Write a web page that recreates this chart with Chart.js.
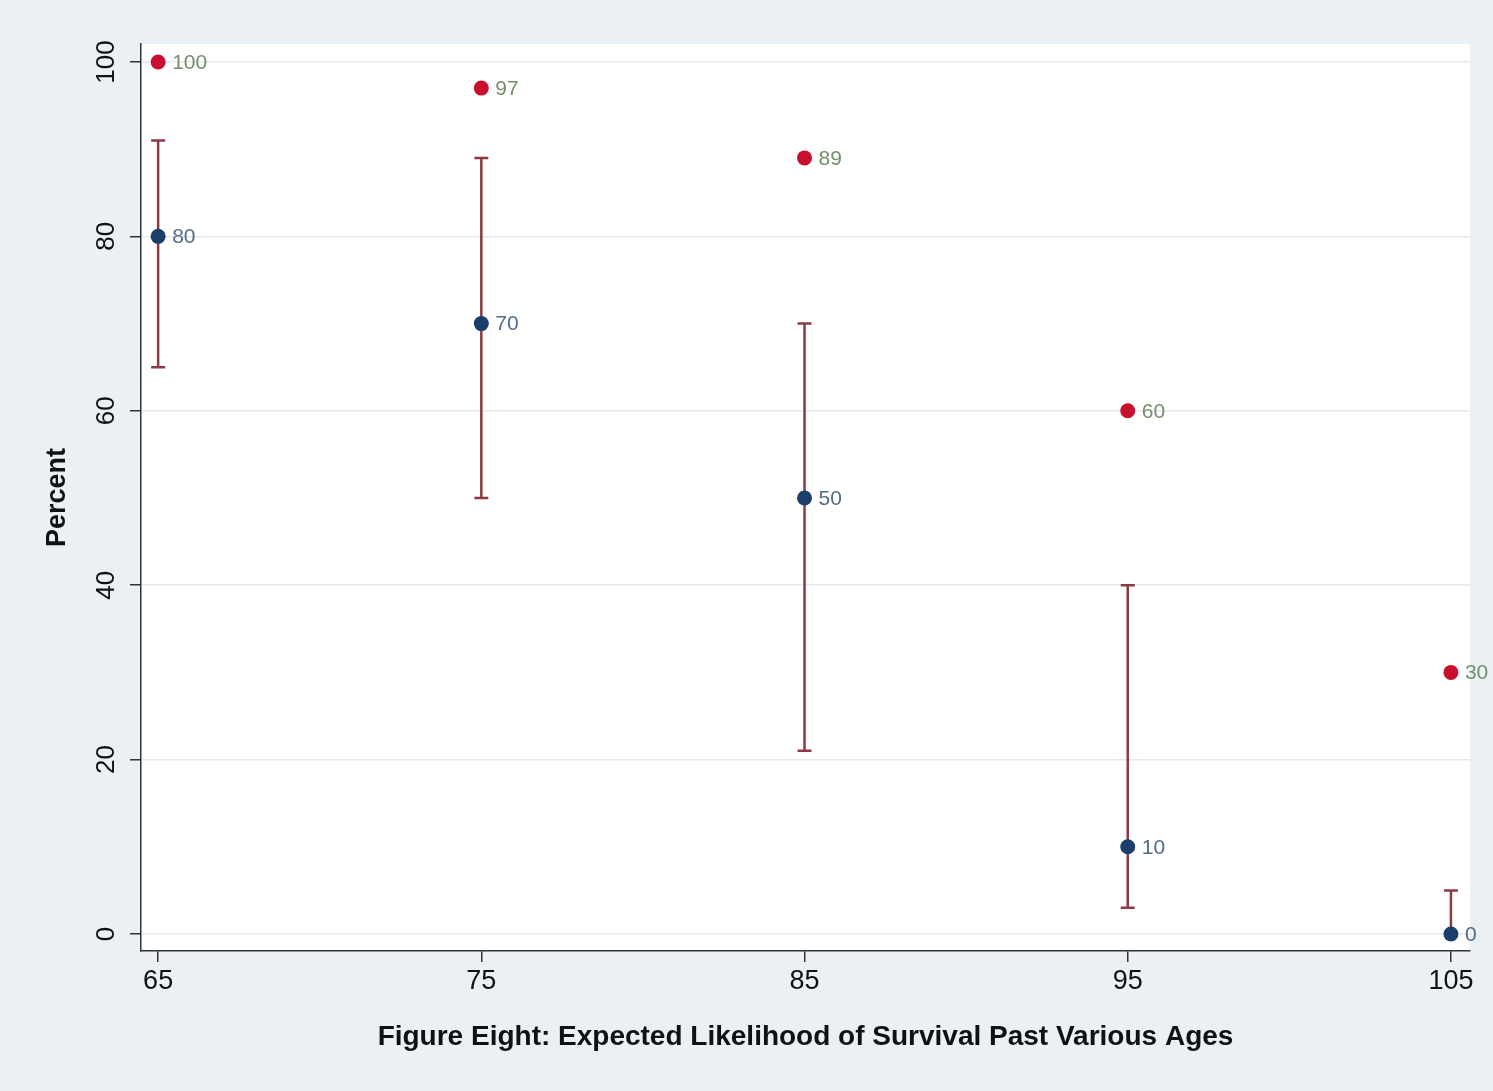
<!DOCTYPE html>
<html>
<head>
<meta charset="utf-8">
<script src="https://cdn.jsdelivr.net/npm/chart.js@4"></script>
<style>
  html, body { margin: 0; padding: 0; background: #eaf0f3; }
  canvas { display: block; }
</style>
</head>
<body>
<canvas id="c" width="1493" height="1091"></canvas>
<script>
// ---- data ----
const ages = [65, 75, 85, 95, 105];
const upperPct = [100, 97, 89, 60, 30];      // red points
const expectedPct = [80, 70, 50, 10, 0];     // blue points
const rangeLow = [65, 50, 21, 3, 0];         // error bar lows
const rangeHigh = [91, 89, 70, 40, 5];       // error bar highs
const xTicks = [65, 75, 85, 95, 105];
const yTicks = [0, 20, 40, 60, 80, 100];
const xTitle = 'Figure Eight: Expected Likelihood of Survival Past Various Ages';
const yTitle = 'Percent';

const FONT = '"Liberation Sans", Arial, sans-serif';

const bgPlugin = {
  id: 'bg',
  beforeDraw(chart) {
    const ctx = chart.ctx, a = chart.chartArea;
    ctx.save();
    ctx.fillStyle = '#eaf0f3';
    ctx.fillRect(0, 0, chart.width, chart.height);
    ctx.fillStyle = '#ffffff';
    ctx.fillRect(a.left, a.top, a.right - a.left, a.bottom - a.top);
    ctx.restore();
  }
};

const errPlugin = {
  id: 'errbars',
  beforeDatasetsDraw(chart) {
    const ctx = chart.ctx, xs = chart.scales.x, ys = chart.scales.y;
    ctx.save();
    ctx.strokeStyle = '#8c3a44';
    ctx.lineWidth = 2.5;
    ages.forEach((a, i) => {
      const x = xs.getPixelForValue(a);
      const y1 = ys.getPixelForValue(rangeLow[i]);
      const y2 = ys.getPixelForValue(rangeHigh[i]);
      ctx.beginPath();
      ctx.moveTo(x, y1); ctx.lineTo(x, y2);
      ctx.moveTo(x - 7, y1); ctx.lineTo(x + 7, y1);
      ctx.moveTo(x - 7, y2); ctx.lineTo(x + 7, y2);
      ctx.stroke();
    });
    ctx.restore();
  }
};

const labelPlugin = {
  id: 'labels',
  afterDraw(chart) {
    const ctx = chart.ctx, xs = chart.scales.x, ys = chart.scales.y;
    ctx.save();
    ctx.font = '21px ' + FONT;
    ctx.textBaseline = 'middle';
    ctx.textAlign = 'left';
    ages.forEach((a, i) => {
      const x = xs.getPixelForValue(a);
      ctx.fillStyle = '#74906a';
      ctx.fillText(String(upperPct[i]), x + 14, ys.getPixelForValue(upperPct[i]) + 1);
      ctx.fillStyle = '#516d8a';
      ctx.fillText(String(expectedPct[i]), x + 14, ys.getPixelForValue(expectedPct[i]) + 1);
    });
    // rotated y tick labels
    ctx.font = '26px ' + FONT;
    ctx.fillStyle = '#111';
    ctx.textAlign = 'center';
    ctx.textBaseline = 'middle';
    ys.ticks.forEach(t => {
      const y = ys.getPixelForValue(t.value);
      ctx.save();
      ctx.translate(106, y);
      ctx.rotate(-Math.PI / 2);
      ctx.fillText(String(t.value), 0, 1);
      ctx.restore();
    });
    ctx.restore();
  }
};

new Chart(document.getElementById('c'), {
  type: 'scatter',
  data: {
    datasets: [
      {
        label: 'Upper',
        data: ages.map((a, i) => ({ x: a, y: upperPct[i] })),
        backgroundColor: '#c8102e',
        borderColor: '#c8102e',
        pointRadius: 7.5,
        borderWidth: 0
      },
      {
        label: 'Expected',
        data: ages.map((a, i) => ({ x: a, y: expectedPct[i] })),
        backgroundColor: '#1b3f6b',
        borderColor: '#1b3f6b',
        pointRadius: 7.5,
        borderWidth: 0
      }
    ]
  },
  options: {
    responsive: false,
    animation: false,
    layout: { padding: { top: 44, right: 23, left: 0, bottom: 0 } },
    plugins: { legend: { display: false }, tooltip: { enabled: false } },
    scales: {
      x: {
        type: 'linear',
        min: 64.47,
        max: 105.59,
        afterBuildTicks(s) { s.ticks = xTicks.map(v => ({ value: v })); },
        afterFit(s) { s.height = 140; },
        border: { display: true, color: '#333', width: 1.5 },
        grid: { drawOnChartArea: false, drawTicks: true, tickLength: 11, tickColor: '#333', lineWidth: 1.5 },
        ticks: { maxRotation: 0, minRotation: 0, padding: 3, color: '#111', font: { family: FONT, size: 27 } },
        title: { display: true, text: xTitle, color: '#111', font: { family: FONT, size: 28, weight: 'bold' }, padding: { top: 0, bottom: 37 } }
      },
      y: {
        type: 'linear',
        min: -1.95,
        max: 102.06,
        afterBuildTicks(s) { s.ticks = yTicks.map(v => ({ value: v })); },
        afterFit(s) { s.width = 141; },
        border: { display: true, color: '#333', width: 1.5 },
        grid: { color: '#e6e8ea', lineWidth: 1.5, drawTicks: true, tickLength: 11, tickColor: '#333' },
        ticks: { color: 'rgba(0,0,0,0)', font: { family: FONT, size: 26 } },
        title: { display: true, text: yTitle, color: '#111', font: { family: FONT, size: 27, weight: 'bold' }, padding: { top: 41, bottom: 0 } }
      }
    }
  },
  plugins: [bgPlugin, errPlugin, labelPlugin]
});
</script>
</body>
</html>
